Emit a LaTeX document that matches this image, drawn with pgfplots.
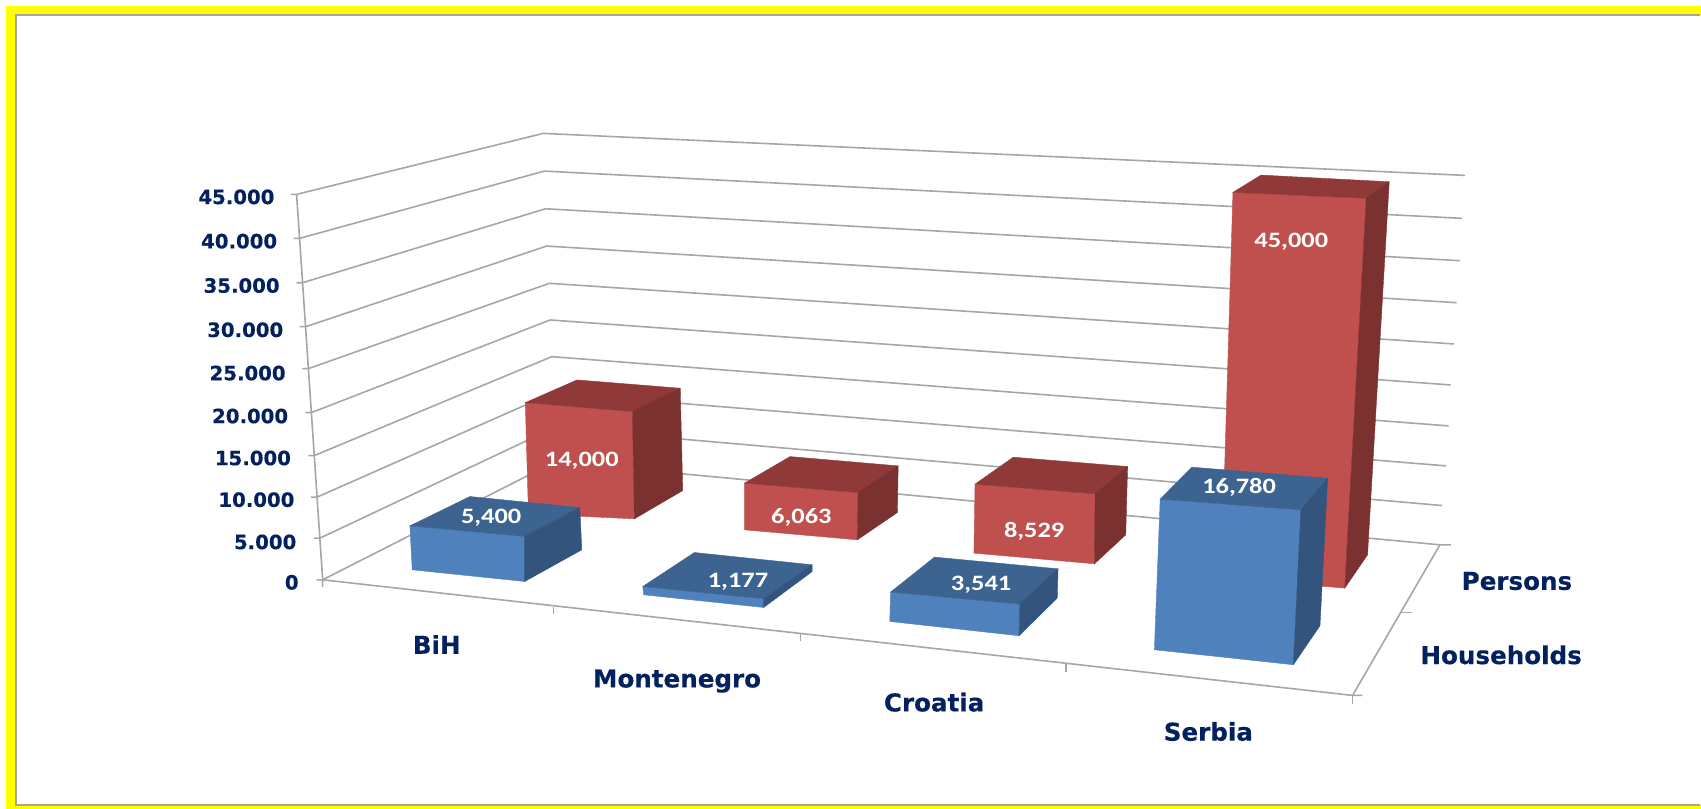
\documentclass[border=0pt]{standalone}
\usepackage{fontspec}
\setmainfont{DejaVu Sans}[BoldFeatures={FakeBold=0.35}]
\newfontfamily\carlito{Carlito}
\usepackage{pgfplots}
\pgfplotsset{compat=1.18}
\definecolor{bluefront}{HTML}{4F81BD}
\definecolor{bluetop}{HTML}{3D6390}
\definecolor{blueside}{HTML}{33557D}
\definecolor{redfront}{HTML}{C0504D}
\definecolor{redtop}{HTML}{8F3A38}
\definecolor{redside}{HTML}{7A3130}
\definecolor{navy}{HTML}{03215E}
\definecolor{gridgray}{HTML}{A6A6A6}
\definecolor{framegray}{HTML}{A5A59C}
\definecolor{pureyellow}{RGB}{255,255,0}
\newcommand\face[2]{\addplot[fill=#1,draw=#1,line width=0.2pt] coordinates {#2} --cycle;}
\newcommand\gline[1]{\addplot[gridgray,line width=0.8pt] coordinates {#1};}
\newcommand\ylab[3]{\node[anchor=base east,inner sep=0pt,font=\fontsize{9.85}{10}\selectfont\bfseries,text=navy] at (axis cs:#1,#2) {#3};}
\newcommand\clab[3]{\node[anchor=base,inner sep=0pt,font=\fontsize{12.3}{12}\selectfont\bfseries,text=navy] at (axis cs:#1,#2) {#3};}
\begin{document}
\begin{tikzpicture}
\begin{axis}[
  hide axis, scale only axis, width=850.5pt, height=404.5pt,
  xmin=0, xmax=1701, ymin=0, ymax=809, y dir=reverse,
  enlargelimits=false, clip=false]
% page and frame
\face{white}{(0,0)(1701,0)(1701,809)(0,809)}
\face{pureyellow}{(6,6)(1701,6)(1701,14)(15,14)(15,806)(1701,806)(1701,809)(6,809)}
\addplot[framegray,line width=1pt] coordinates {(1701,15)(16,15)(16,805)(1701,805)};
% gridlines: front-left, back-left, back-right, with tick
\gline{(291,194.3)(296.6,194.3)(543.4,133.3)(1466,175.3)}
\gline{(293.6,238.3)(299.6,238.3)(544.6,171)(1462.7,218.3)}
\gline{(296.6,282.7)(302.6,282.7)(545.7,208.7)(1461,260.7)}
\gline{(299.6,326.7)(305.6,326.7)(547,246)(1457.4,302.7)}
\gline{(302.4,368.7)(308.4,368.7)(549.6,283.3)(1455,344)}
\gline{(305.4,412.7)(311.4,412.7)(550.3,320)(1451.5,385)}
\gline{(308.3,455.7)(314.3,455.7)(552,356.7)(1449.4,426)}
\gline{(311,497.3)(317,497.3)(553,393)(1447,466)}
\gline{(314,538.3)(320,538.3)(554,428)(1443,505.7)}
\gline{(316.7,580)(322.7,580)(555,462)(1440.7,545)(1451.7,545)}
% axes and ticks
\gline{(296.6,194.3)(322.7,580)(322.7,587)}
\gline{(322.7,580)(1353.3,695.7)(1363,695.7)}
\gline{(1353.3,695.7)(1353.3,704)}
\gline{(1353.3,695.7)(1440.7,545)}
\gline{(1401.7,612.7)(1412.3,612.7)}
\gline{(553.5,607.3)(553.5,614)}
\gline{(801,634)(801,641.7)}
\gline{(1066.6,664.3)(1066.6,672.3)}
% Persons, BiH (14,000)
\face{redfront}{(525.5,402.7)(632.7,411.7)(634.6,519)(528.6,514)}
\face{redtop}{(525.5,402.7)(577.2,380)(680.5,388.3)(632.7,411.7)}
\face{redside}{(632.7,411.7)(680.5,388.3)(683,490.7)(634.6,519)}
% Persons, Montenegro (6,063)
\face{redfront}{(744.8,483.3)(858.4,492.7)(857.7,540)(744.8,530)}
\face{redtop}{(744.8,483.3)(790.4,456.7)(898.6,466)(858.4,492.7)}
\face{redside}{(858.4,492.7)(898.6,466)(897.8,512.7)(857.7,540)}
% Persons, Croatia (8,529)
\face{redfront}{(975.5,484.3)(1095.7,494)(1095,564)(974.4,553.3)}
\face{redtop}{(975.5,484.3)(1013.8,457.3)(1128.2,466.7)(1095.7,494)}
\face{redside}{(1095.7,494)(1128.2,466.7)(1126.3,535)(1095,564)}
% Persons, Serbia (45,000)
\face{redfront}{(1233.6,192.3)(1367,198.3)(1345.5,588.3)(1222,578)}
\face{redtop}{(1233.6,192.3)(1261.7,175)(1390,181.7)(1367,198.3)}
\face{redside}{(1367,198.3)(1390,181.7)(1368.3,555)(1345.5,588.3)}
% Households, BiH (5,400)
\face{bluefront}{(410,526)(524.8,536.7)(524.8,581.7)(412.3,570)}
\face{bluetop}{(410,526)(470,496.7)(580,507.7)(524.8,536.7)}
\face{blueside}{(524.8,536.7)(580,507.7)(582,550)(524.8,581.7)}
% Households, Montenegro (1,177)
\face{bluefront}{(643,586.7)(764,599)(764,607.7)(644,595)}
\face{bluetop}{(643,586.7)(694.7,552.7)(812.6,565)(764,599)}
\face{blueside}{(764,599)(812.6,565)(812.6,571.7)(764,607.7)}
% Households, Croatia (3,541)
\face{bluefront}{(891,592.3)(1020.3,604.3)(1019.5,636)(890.2,621.7)}
\face{bluetop}{(891,592.3)(935,557.3)(1058.6,569)(1020.3,604.3)}
\face{blueside}{(1020.3,604.3)(1058.6,569)(1057.8,598.3)(1019.5,636)}
% Households, Serbia (16,780)
\face{bluefront}{(1160.8,499.3)(1301.6,510)(1294,665)(1155,650)}
\face{bluetop}{(1160.8,499.3)(1192.5,467.3)(1328.4,478.3)(1301.6,510)}
\face{blueside}{(1301.6,510)(1328.4,478.3)(1320.7,626)(1294,665)}
% data labels
\addplot[draw=none,mark=none,nodes near coords,point meta=explicit symbolic,
  every node near coord/.append style={anchor=base,inner sep=0pt,xscale=1.2,
    font=\carlito\fontsize{11}{11}\selectfont\bfseries,text=white}]
  table[meta=label,col sep=space] {
x y label
582 466.7 14,000
491.3 523.3 5,400
801.7 523.3 6,063
738.3 587.3 1,177
1034.7 537.7 8,529
981.6 590.7 3,541
1239.8 493.3 16,780
1292 247.3 45,000
};
% value axis labels
\ylab{274.8}{204}{45.000}
\ylab{277.5}{248.3}{40.000}
\ylab{280}{292.7}{35.000}
\ylab{283.6}{337}{30.000}
\ylab{286}{380.3}{25.000}
\ylab{288.5}{423.3}{20.000}
\ylab{291.3}{465.3}{15.000}
\ylab{294.8}{507}{10.000}
\ylab{296.7}{549.3}{5.000}
\ylab{299}{589.7}{0}
% category labels
\clab{436.8}{654}{BiH}
\clab{677.3}{687.7}{Montenegro}
\clab{934.6}{711.7}{Croatia}
\clab{1209}{741}{Serbia}
\clab{1517.8}{590}{Persons}
\clab{1502}{664.3}{Households}
\end{axis}
\end{tikzpicture}
\end{document}
